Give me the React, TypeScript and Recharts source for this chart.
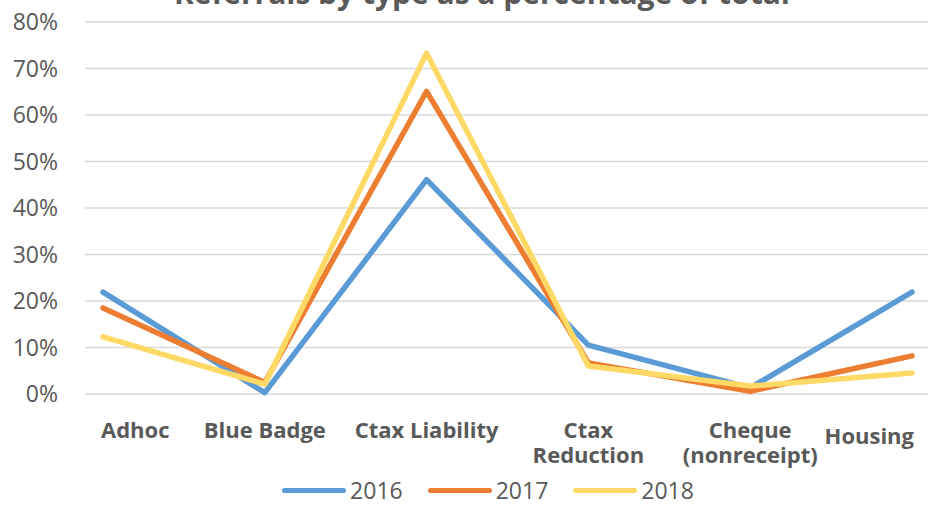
import { LineChart, Line, XAxis, YAxis, CartesianGrid, Legend } from "recharts";

const categories = ["Adhoc", "Blue Badge", "Ctax Liability", "Ctax Reduction", "Cheque (nonreceipt)", "Housing"];
const tickLines = [["Adhoc"], ["Blue Badge"], ["Ctax Liability"], ["Ctax", "Reduction"], ["Cheque", "(nonreceipt)"], ["Housing"]];
const years = ["2016", "2017", "2018"];
const values2016 = [0.219, 0.003, 0.461, 0.105, 0.013, 0.219];
const values2017 = [0.185, 0.025, 0.651, 0.067, 0.006, 0.082];
const values2018 = [0.123, 0.021, 0.733, 0.06, 0.017, 0.045];
const yTicks = [0, 0.1, 0.2, 0.3, 0.4, 0.5, 0.6, 0.7, 0.8];
const colors = ["#5B9BD5", "#ED7D31", "#FFD966"];

const data = categories.map((name, i) => ({
  name,
  "2016": values2016[i],
  "2017": values2017[i],
  "2018": values2018[i],
}));

const FONT = "'Open Sans', sans-serif";
const TEXT = "#595959";

function CategoryTick({ x, y, payload }: any) {
  const idx = payload.index;
  const lines = tickLines[idx] ?? [payload.value];
  const last = idx === tickLines.length - 1;
  // Excel keeps the end labels inside the plot area
  const anchor = idx === 0 ? "start" : last ? "end" : "middle";
  const tx = idx === 0 ? x - 2 : last ? x + 2 : x;
  const ty = y + 44 + (last ? 6 : 0);
  return (
    <text x={tx} y={ty} textAnchor={anchor} fill={TEXT} fontSize={22} fontWeight={700} fontFamily={FONT}>
      {lines.map((l, i) => (
        <tspan key={i} x={tx} dy={i === 0 ? 0 : 25}>
          {l}
        </tspan>
      ))}
    </text>
  );
}

function YearLegend() {
  return (
    <div
      style={{
        display: "flex",
        justifyContent: "center",
        alignItems: "center",
        height: 32,
        lineHeight: "32px",
        marginTop: 12,
        paddingLeft: 48,
        fontFamily: FONT,
        fontSize: 23,
        color: TEXT,
      }}
    >
      {years.map((yr, i) => (
        <div key={yr} style={{ display: "flex", alignItems: "center", marginRight: i < 2 ? 25 : 0 }}>
          <span style={{ width: 64, height: 5, borderRadius: 3, background: colors[i], marginRight: 4 }} />
          <span>{yr}</span>
        </div>
      ))}
    </div>
  );
}

export default function App() {
  return (
    <div style={{ position: "absolute", left: 0, top: 0, width: 928, height: 506, overflow: "hidden", background: "#fff" }}>
      <div
        style={{
          position: "absolute",
          top: -22,
          left: 0,
          width: 928,
          paddingLeft: 36,
          boxSizing: "border-box",
          textAlign: "center",
          fontFamily: FONT,
          fontWeight: 700,
          fontSize: 30,
          lineHeight: "30px",
          color: TEXT,
        }}
      >
        Referrals by type as a percentage of total
      </div>
      <LineChart width={928} height={506} data={data} margin={{ top: 22, right: 0, bottom: 0, left: 0 }}>
        <CartesianGrid vertical={false} stroke="#D9D9D9" strokeWidth={1.5} />
        <XAxis
          dataKey="name"
          axisLine={false}
          tickLine={false}
          tickSize={0}
          tickMargin={0}
          height={68}
          interval={0}
          padding={{ left: 18, right: 16 }}
          tick={<CategoryTick />}
        />
        <YAxis
          domain={[0, 0.8]}
          ticks={yTicks}
          width={85}
          axisLine={false}
          tickLine={false}
          tickSize={0}
          tickMargin={27}
          tickFormatter={(v: number) => `${Math.round(v * 100)}%`}
          tick={{ fill: TEXT, fontSize: 23, fontFamily: FONT }}
        />
        <Legend verticalAlign="bottom" height={44} content={<YearLegend />} />
        {years.map((yr, i) => (
          <Line
            key={yr}
            dataKey={yr}
            stroke={colors[i]}
            strokeWidth={5.5}
            strokeLinecap="round"
            strokeLinejoin="round"
            dot={false}
            type="linear"
            isAnimationActive={false}
          />
        ))}
      </LineChart>
    </div>
  );
}
